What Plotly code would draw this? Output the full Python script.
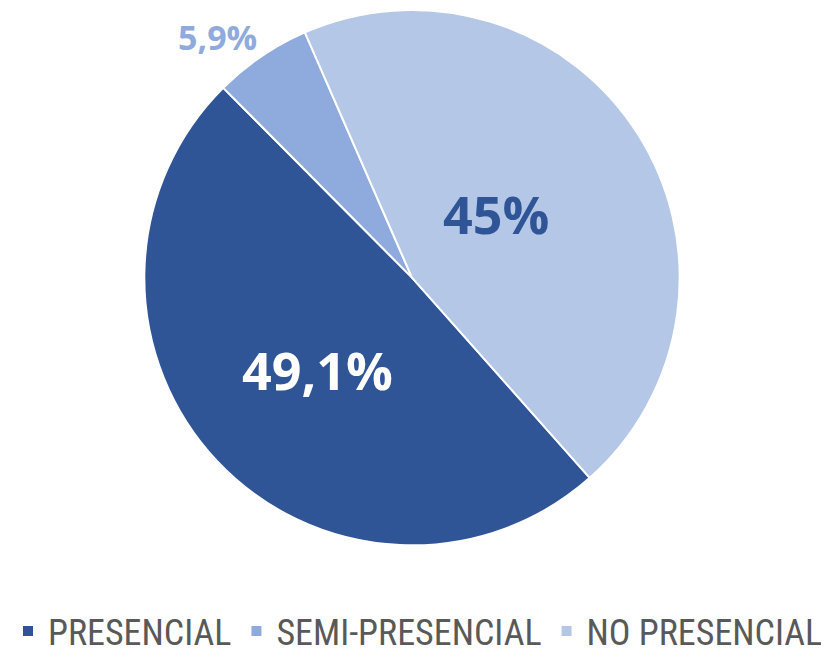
import math
import plotly.graph_objects as go

categories = ["PRESENCIAL", "SEMI-PRESENCIAL", "NO PRESENCIAL"]
values = [49.1, 5.9, 45.0]
labels_text = ["49,1%", "5,9%", "45%"]
colors = ["#2F5597", "#8FAADC", "#B4C7E7"]
text_colors = ["#FFFFFF", "#8FAADC", "#2F5597"]
text_sizes = [52, 34, 52]
label_radius = [0.5, 1.17, 0.4]      # label distance from centre, as a fraction of the radius
label_angle_shift = [-1.2, -4.4, -5.0]  # small best-fit nudges (degrees)

W, H = 829, 653
off = 8  # page body margin
cx, cy, r = 412 - off, 281 - off, 266
rd = r + 5  # domain half-size (plotly draws the pie slightly inside its domain)
start = 138.4

fig = go.Figure(go.Pie(
    labels=categories,
    values=values,
    textinfo="none",
    marker=dict(colors=colors, line=dict(color="white", width=2)),
    sort=False,
    direction="clockwise",
    rotation=start,
    hoverinfo="label+percent",
    domain=dict(x=[(cx - rd) / W, (cx + rd) / W], y=[(H - cy - rd) / H, (H - cy + rd) / H]),
))

total = sum(values)
acc = 0.0
for v, t, c, s, f, sh in zip(values, labels_text, text_colors, text_sizes, label_radius, label_angle_shift):
    mid = start + (acc + v / 2) / total * 360 + sh
    acc += v
    a = math.radians(mid)
    px = cx + f * r * math.sin(a)
    py = cy - f * r * math.cos(a)
    fig.add_annotation(x=px / W, y=1 - py / H, xref="paper", yref="paper", text=t, showarrow=False,
                       xanchor="center", yanchor="middle",
                       font=dict(color=c, size=s, family="Open Sans, Noto Sans, sans-serif", weight="bold"))

fig.update_layout(
    width=W, height=H,
    margin=dict(l=0, r=0, t=0, b=0),
    paper_bgcolor="white",
    plot_bgcolor="white",
    showlegend=True,
    legend=dict(orientation="h", x=(412 - off) / W, xanchor="center", y=(H - (639 - off)) / H, yanchor="middle",
                font=dict(size=36, color="#595959", family="Liberation Sans Narrow, Roboto Condensed, Noto Sans, sans-serif"),
                itemsizing="constant", traceorder="normal"),
)

fig.write_html("out.html")
